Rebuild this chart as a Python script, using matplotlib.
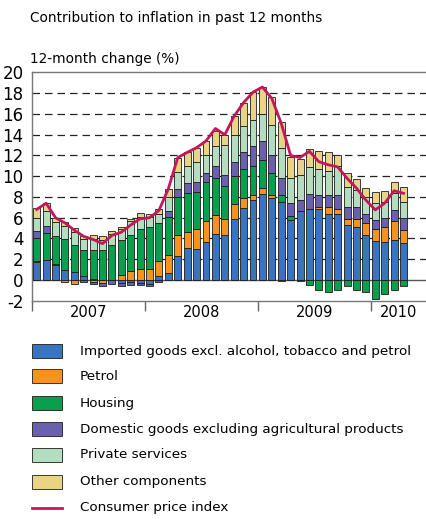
import numpy as np
import matplotlib
matplotlib.use("Agg")
import matplotlib.pyplot as plt
from matplotlib.patches import Rectangle
from matplotlib.lines import Line2D

plt.rcParams['font.family'] = ['DejaVu Sans']
plt.rcParams['axes.unicode_minus'] = False

# monthly data, Jan 2007 - Apr 2010
years = ['2007', '2008', '2009', '2010']
months_per_year = [12, 12, 12, 4]

imported = [1.7, 1.9, 1.45, 1.0, 0.75, 0.4, 0.1, 0.0, 0.0, -0.3, -0.2, -0.3,
            -0.4, 0.4, 0.65, 2.3, 3.05, 2.95, 3.65, 4.45, 4.35, 5.9, 6.9, 7.75,
            8.3, 7.9, 7.5, 5.8, 6.6, 6.85, 6.8, 6.4, 6.4, 5.3, 5.1, 4.3,
            3.8, 3.65, 3.9, 3.55]
petrol = [0.15, 0.05, 0.1, -0.15, -0.4, 0.0, -0.2, -0.3, 0.0, 0.5, 0.9, 1.1,
          1.1, 1.45, 1.75, 2.0, 1.6, 1.95, 2.05, 1.8, 1.55, 1.4, 1.0, 0.45,
          0.55, 0.3, -0.1, 0.0, 0.0, 0.0, 0.2, 0.6, 0.4, 0.55, 0.75, 1.2,
          1.15, 1.5, 1.8, 1.3]
housing = [2.15, 2.55, 2.65, 2.95, 2.65, 2.5, 2.8, 2.9, 3.4, 3.4, 3.45, 3.8,
           4.0, 3.65, 3.65, 3.7, 3.75, 3.6, 3.7, 3.6, 3.15, 2.7, 2.8, 2.75,
           2.75, 2.1, 0.7, 0.35, -0.1, -0.45, -1.0, -1.2, -1.0, -0.6, -0.95, -1.15,
           -1.8, -1.35, -0.95, -0.6]
domestic = [0.7, 0.7, 0.0, 0.0, 0.0, -0.2, -0.2, -0.3, -0.4, -0.25, -0.3, -0.2,
            -0.15, -0.2, 0.55, 0.8, 0.9, 0.95, 0.9, 1.15, 1.1, 1.4, 1.6, 1.95,
            1.8, 1.7, 1.6, 1.25, 1.1, 1.4, 1.2, 1.2, 1.4, 1.15, 1.15, 0.9,
            0.85, 0.85, 1.0, 1.1]
services = [1.3, 1.4, 1.35, 1.25, 1.2, 1.05, 1.05, 1.0, 1.0, 1.0, 1.3, 1.15,
            1.0, 0.9, 1.4, 1.6, 1.65, 1.9, 1.7, 1.95, 2.85, 2.6, 2.5, 2.55,
            2.6, 2.9, 2.9, 2.4, 2.4, 2.6, 2.5, 2.3, 2.8, 2.0, 1.7, 1.6,
            1.6, 1.5, 1.7, 1.6]
other = [0.95, 0.85, 0.45, 0.35, 0.4, 0.25, 0.35, 0.3, 0.3, 0.25, 0.25, 0.4,
         0.3, 0.4, 0.8, 1.4, 1.35, 1.4, 1.4, 1.45, 1.0, 1.8, 2.3, 2.65,
         2.6, 2.7, 2.5, 2.1, 1.6, 1.8, 1.7, 1.8, 1.0, 1.35, 1.0, 0.85,
         1.05, 1.1, 1.0, 1.4]
cpi = [6.8, 7.4, 6.0, 5.5, 4.8, 4.2, 3.9, 3.5, 4.3, 4.6, 5.3, 5.9,
       6.0, 6.7, 8.8, 11.8, 12.3, 12.75, 13.4, 14.6, 14.0, 15.8, 17.1, 18.1,
       18.6, 17.5, 15.1, 12.0, 11.8, 12.4, 11.4, 11.1, 10.9, 9.8, 8.85, 7.7,
       6.75, 7.4, 8.6, 8.35]

labels = ['Imported goods excl. alcohol, tobacco and petrol', 'Petrol', 'Housing',
          'Domestic goods excluding agricultural products', 'Private services',
          'Other components']
colors = ['#3a74bf', '#f6921e', '#08a04c', '#6a60ae', '#b4ddc0', '#e9d387']
cpi_label = 'Consumer price index'
cpi_color = '#c2185b'

W, H = 427, 519
fig = plt.figure(figsize=(W / 100, H / 100), dpi=100)
ax = fig.add_axes([32 / W, 1 - 300.7 / H, (W - 32) / W, (300.7 - 72.5) / H])

x = np.arange(len(cpi))
pos = np.zeros(len(x))
neg = np.zeros(len(x))
for vals, col in zip([imported, petrol, housing, domestic, services, other], colors):
    v = np.array(vals)
    for sign in (1, -1):
        part = np.where(v * sign > 0, v, 0.0)
        base = pos if sign > 0 else neg
        m = part != 0
        ax.bar(x[m], part[m], 0.74, bottom=base[m], color=col,
               edgecolor='#1c1c1c', linewidth=0.6, zorder=3)
        base += part

ax.plot(x, cpi, color=cpi_color, lw=2, zorder=5, solid_joinstyle='round')

for yv in range(2, 20, 2):
    ax.axhline(yv, color='#222222', lw=0.9, ls=(0, (6, 4)), zorder=1)
ax.axhline(0, color='#555555', lw=1.0, zorder=2)

ax.set_ylim(-2, 20)
ax.set_xlim(-0.5, 41.5)
ax.set_yticks(range(-2, 21, 2))
ax.tick_params(axis='y', length=0, pad=6, labelsize=12)

# year separators and centred labels
edges = np.concatenate([[0], np.cumsum(months_per_year)]) - 0.5
ax.set_xticks(edges[:-1])
ax.set_xticklabels([])
ax.tick_params(axis='x', which='major', length=7, color='#666666', width=1)
centers = list((edges[:-2] + edges[1:-1]) / 2) + [(edges[-2] + ax.get_xlim()[1]) / 2]
ax.set_xticks(centers, minor=True)
ax.set_xticklabels(years, minor=True)
ax.tick_params(axis='x', which='minor', length=0, pad=3, labelsize=10.5)

for s in ['left', 'top', 'bottom']:
    ax.spines[s].set_color('#777777')
    ax.spines[s].set_linewidth(1)
ax.spines['right'].set_visible(False)

fig.text(30 / W, 1 - 18 / H, 'Contribution to inflation in past 12 months',
         fontsize=9.8, va='center', ha='left')
fig.text(30 / W, 1 - 59 / H, '12-month change (%)', fontsize=9.8, va='center', ha='left')

# legend
rows = [351, 376, 403, 429, 455, 482, 508]
for yy, lab, col in zip(rows, labels, colors):
    fig.add_artist(Rectangle((32 / W, 1 - (yy + 7) / H), 30 / W, 14 / H,
                             transform=fig.transFigure, facecolor=col,
                             edgecolor='#1c1c1c', linewidth=0.6))
    fig.text(80 / W, 1 - yy / H, lab, fontsize=9.7, va='center', ha='left')
fig.add_artist(Line2D([32 / W, 62 / W], [1 - rows[-1] / H] * 2,
                      transform=fig.transFigure, color=cpi_color, lw=2))
fig.text(80 / W, 1 - rows[-1] / H, cpi_label, fontsize=9.7, va='center', ha='left')

fig.savefig('out.png', dpi=100)
